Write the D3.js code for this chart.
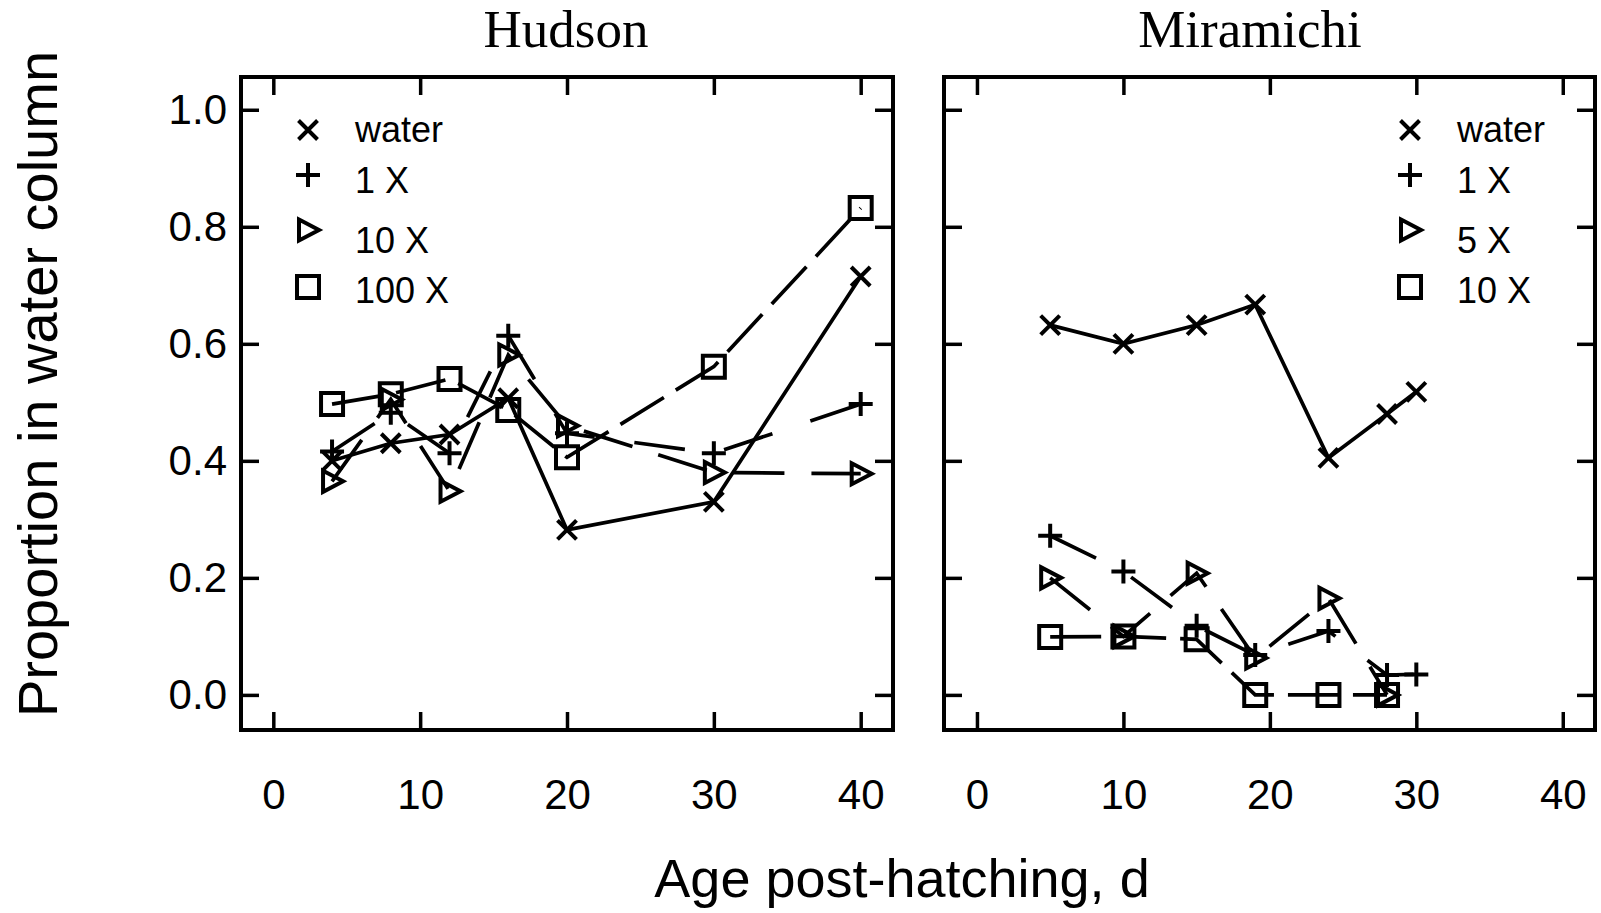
<!DOCTYPE html>
<html>
<head>
<meta charset="utf-8">
<script src="https://cdn.jsdelivr.net/npm/d3@7"></script>
<style>
  html, body { margin: 0; padding: 0; background: #fff; }
  svg { display: block; }
  .tick text { font-family: "Liberation Sans", Arial, sans-serif; font-size: 42px; fill: #000; }
</style>
</head>
<body>
<svg id="chart" width="1601" height="913"></svg>
<script>
// ---- data -------------------------------------------------------------
const hudsonDays   = [4, 8, 12, 16, 20, 30, 40];
const hudsonWater  = [0.400, 0.430, 0.445, 0.507, 0.282, 0.330, 0.715];
const hudson1x     = [0.416, 0.482, 0.413, 0.614, 0.447, 0.413, 0.497];
const hudson10x    = [0.365, 0.505, 0.348, 0.581, 0.460, 0.380, 0.378];
const hudson100x   = [0.497, 0.514, 0.540, 0.487, 0.406, 0.561, 0.832];

const miramichiDays  = [5, 10, 15, 19, 24, 28, 30];
const miramichiWater = [0.632, 0.600, 0.632, 0.667, 0.405, 0.480, 0.518];
const miramichi1x    = [0.272, 0.211, 0.118, 0.068, 0.109, 0.034, 0.035];
const miramichi5x    = [0.200, 0.100, 0.208, 0.063, 0.165, 0.000];
const miramichi10x   = [0.099, 0.100, 0.095, 0.000, 0.000, 0.000];

const hudsonLabels    = ["water", "1 X", "10 X", "100 X"];
const miramichiLabels = ["water", "1 X", "5 X", "10 X"];

const xTicks = [0, 10, 20, 30, 40];
const yTicks = [0, 0.2, 0.4, 0.6, 0.8, 1.0];

// ---- styling per series (symbol + dash) -------------------------------
const symbols = ["cross", "plus", "triangle", "square"];
const dashes  = [null, "51,40", "51,27", "51,14"];

const svg = d3.select("#chart");
const sans = '"Liberation Sans", Arial, sans-serif';
const serif = '"Liberation Serif", "Times New Roman", serif';

const y = d3.scaleLinear().domain([-0.06, 1.056]).range([730, 77]);

function symbolPath(type) {
  const p = d3.path();
  if (type === "cross") {
    const s = 9.5;
    p.moveTo(-s, -s); p.lineTo(s, s);
    p.moveTo(-s, s);  p.lineTo(s, -s);
  } else if (type === "plus") {
    const s = 12;
    p.moveTo(-s, 0); p.lineTo(s, 0);
    p.moveTo(0, -s); p.lineTo(0, s);
  } else if (type === "triangle") {
    p.moveTo(-9, -10.5); p.lineTo(11, 0); p.lineTo(-9, 10.5); p.closePath();
  } else {
    const s = 11;
    p.rect(-s, -s, 2 * s, 2 * s);
  }
  return p.toString();
}

function panel(opts) {
  const { left, right, days, series, labels, title, titleX, legendX, legendTextX, showYLabels } = opts;
  const x = d3.scaleLinear().domain(opts.xDomain).range([left, right]);
  const g = svg.append("g");

  // axes with inward ticks on all four sides
  const bottom = g.append("g").attr("transform", "translate(0,730)")
    .call(d3.axisBottom(x).tickValues(xTicks).tickSize(-18).tickPadding(49).tickFormat(d3.format("d")));
  const top = g.append("g").attr("transform", "translate(0,77)")
    .call(d3.axisTop(x).tickValues(xTicks).tickSize(-18).tickFormat(""));
  const leftAx = g.append("g").attr("transform", `translate(${left},0)`)
    .call(d3.axisLeft(y).tickValues(yTicks).tickSize(-18).tickPadding(14)
      .tickFormat(showYLabels ? d3.format(".1f") : ""));
  const rightAx = g.append("g").attr("transform", `translate(${right},0)`)
    .call(d3.axisRight(y).tickValues(yTicks).tickSize(-18).tickFormat(""));
  [bottom, top, leftAx, rightAx].forEach(a => {
    a.select(".domain").remove();
    a.selectAll(".tick line").attr("stroke", "#000").attr("stroke-width", 3.5);
  });

  // frame
  g.append("rect")
    .attr("x", left).attr("y", 77)
    .attr("width", right - left).attr("height", 730 - 77)
    .attr("fill", "none").attr("stroke", "#000").attr("stroke-width", 4);

  // series lines and markers
  const line = d3.line().x(d => x(d[0])).y(d => y(d[1]));
  series.forEach((vals, i) => {
    const pts = vals.map((v, j) => [days[j], v]);
    g.append("path")
      .attr("d", line(pts))
      .attr("fill", "none").attr("stroke", "#000").attr("stroke-width", 3.7)
      .attr("stroke-dasharray", dashes[i]);
    g.selectAll(null).data(pts).enter().append("path")
      .attr("d", symbolPath(symbols[i]))
      .attr("transform", d => `translate(${x(d[0])},${y(d[1])})`)
      .attr("fill", "none").attr("stroke", "#000").attr("stroke-width", 4);
  });

  // legend
  const markY = [130, 175, 230, 287];
  const textY = [142, 193, 253, 303];
  labels.forEach((lab, i) => {
    g.append("path")
      .attr("d", symbolPath(symbols[i]))
      .attr("transform", `translate(${legendX},${markY[i]})`)
      .attr("fill", "none").attr("stroke", "#000").attr("stroke-width", 4);
    g.append("text")
      .attr("x", legendTextX).attr("y", textY[i])
      .attr("font-family", sans).attr("font-size", 36)
      .text(lab);
  });

  // panel title
  g.append("text")
    .attr("x", titleX).attr("y", 47)
    .attr("text-anchor", "middle")
    .attr("font-family", serif).attr("font-size", 53)
    .text(title);
}

panel({
  left: 241, right: 893, xDomain: [-2.2, 42.2],
  days: hudsonDays,
  series: [hudsonWater, hudson1x, hudson10x, hudson100x],
  labels: hudsonLabels, title: "Hudson", titleX: 566,
  legendX: 308, legendTextX: 355, showYLabels: true
});

panel({
  left: 944, right: 1595, xDomain: [-2.25, 42.2],
  days: miramichiDays,
  series: [miramichiWater, miramichi1x, miramichi5x, miramichi10x],
  labels: miramichiLabels, title: "Miramichi", titleX: 1250,
  legendX: 1410, legendTextX: 1457, showYLabels: false
});

// shared axis titles
svg.append("text")
  .attr("x", 902).attr("y", 897)
  .attr("text-anchor", "middle")
  .attr("font-family", sans).attr("font-size", 54)
  .text("Age post-hatching, d");

svg.append("text")
  .attr("transform", "translate(57,384) rotate(-90)")
  .attr("text-anchor", "middle")
  .attr("font-family", sans).attr("font-size", 56)
  .text("Proportion in water column");
</script>
</body>
</html>
